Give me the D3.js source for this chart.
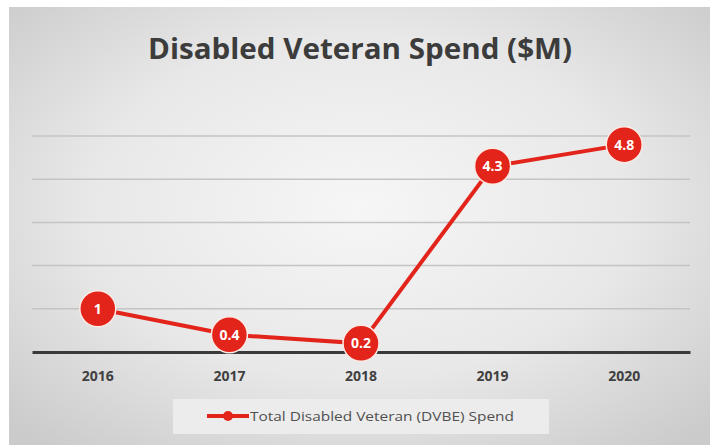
<!DOCTYPE html>
<html><head><meta charset="utf-8">
<script src="https://cdn.jsdelivr.net/npm/d3@7"></script>
<style>html,body{margin:0;padding:0;background:#fff;}</style>
</head><body>
<svg id="c" width="716" height="445"></svg>
<script>
const categories = ["2016","2017","2018","2019","2020"];
const values = [1, 0.4, 0.2, 4.3, 4.8];
const labels = ["1","0.4","0.2","4.3","4.8"];
const yTicks = [0,1,2,3,4,5];
const seriesName = "Total Disabled Veteran (DVBE) Spend";
const title = "Disabled Veteran Spend ($M)";

const svg = d3.select("#c");
const defs = svg.append("defs");
const rg = defs.append("radialGradient").attr("id","bg").attr("cx","50%").attr("cy","45%").attr("r","70%");
rg.append("stop").attr("offset","0%").attr("stop-color","#f6f6f6");
rg.append("stop").attr("offset","55%").attr("stop-color","#e8e8e8");
rg.append("stop").attr("offset","100%").attr("stop-color","#cbcbcb");

svg.append("rect").attr("x",9).attr("y",7).attr("width",701).attr("height",445).attr("fill","url(#bg)");

const x = d3.scaleBand().domain(categories).range([32,690]);
const y = d3.scaleLinear().domain([0,5]).range([352,136]);
const cx = d => x(d) + x.bandwidth()/2;

// gridlines
svg.append("g").selectAll("line").data(yTicks.filter(t=>t>0)).join("line")
  .attr("x1",32).attr("x2",690).attr("y1",d=>y(d)).attr("y2",d=>y(d))
  .attr("stroke","#c4c4c4").attr("stroke-width",1.5);

// x axis
const xAxis = d3.axisBottom(x).tickSize(0).tickPadding(19);
const gx = svg.append("g").attr("transform",`translate(0,${y(0)})`).call(xAxis);
gx.select(".domain").attr("stroke","#3a3a3a").attr("stroke-width",3);
gx.selectAll("text").attr("font-family","'Open Sans', sans-serif").attr("font-weight","bold")
  .attr("font-size",14).attr("fill","#404040");

// title
svg.append("text").attr("x",360).attr("y",59).attr("text-anchor","middle")
  .attr("font-family","'Open Sans', sans-serif").attr("font-weight","bold").attr("font-size",29)
  .attr("fill","#3c3c3c").attr("textLength",424).attr("lengthAdjust","spacingAndGlyphs").text(title);

// line
const pts = categories.map((c,i)=>({c, v:values[i], l:labels[i]}));
svg.append("path").datum(pts)
  .attr("d", d3.line().x(d=>cx(d.c)).y(d=>y(d.v)))
  .attr("fill","none").attr("stroke","#e3241b").attr("stroke-width",4);

const mk = svg.append("g").selectAll("g").data(pts).join("g")
  .attr("transform",d=>`translate(${cx(d.c)},${y(d.v)})`);
mk.append("circle").attr("r",18).attr("fill","#e3241b").attr("stroke","#fbe9e4").attr("stroke-width",1.5);
mk.append("text").attr("text-anchor","middle").attr("dy","0.36em")
  .attr("font-family","'Open Sans', sans-serif").attr("font-weight","bold").attr("font-size",14)
  .attr("fill","#fff").text(d=>d.l);

// legend
const lg = svg.append("g");
lg.append("rect").attr("x",173).attr("y",399).attr("width",376).attr("height",35).attr("fill","#ececec");
lg.append("line").attr("x1",207).attr("x2",249).attr("y1",416).attr("y2",416).attr("stroke","#e3241b").attr("stroke-width",4);
lg.append("circle").attr("cx",228).attr("cy",416).attr("r",5).attr("fill","#e3241b");
lg.append("text").attr("x",250).attr("y",421).attr("font-family","'Open Sans', sans-serif")
  .attr("font-size",13).attr("fill","#505050").attr("textLength",264).attr("lengthAdjust","spacingAndGlyphs").text(seriesName);
</script>
</body></html>
